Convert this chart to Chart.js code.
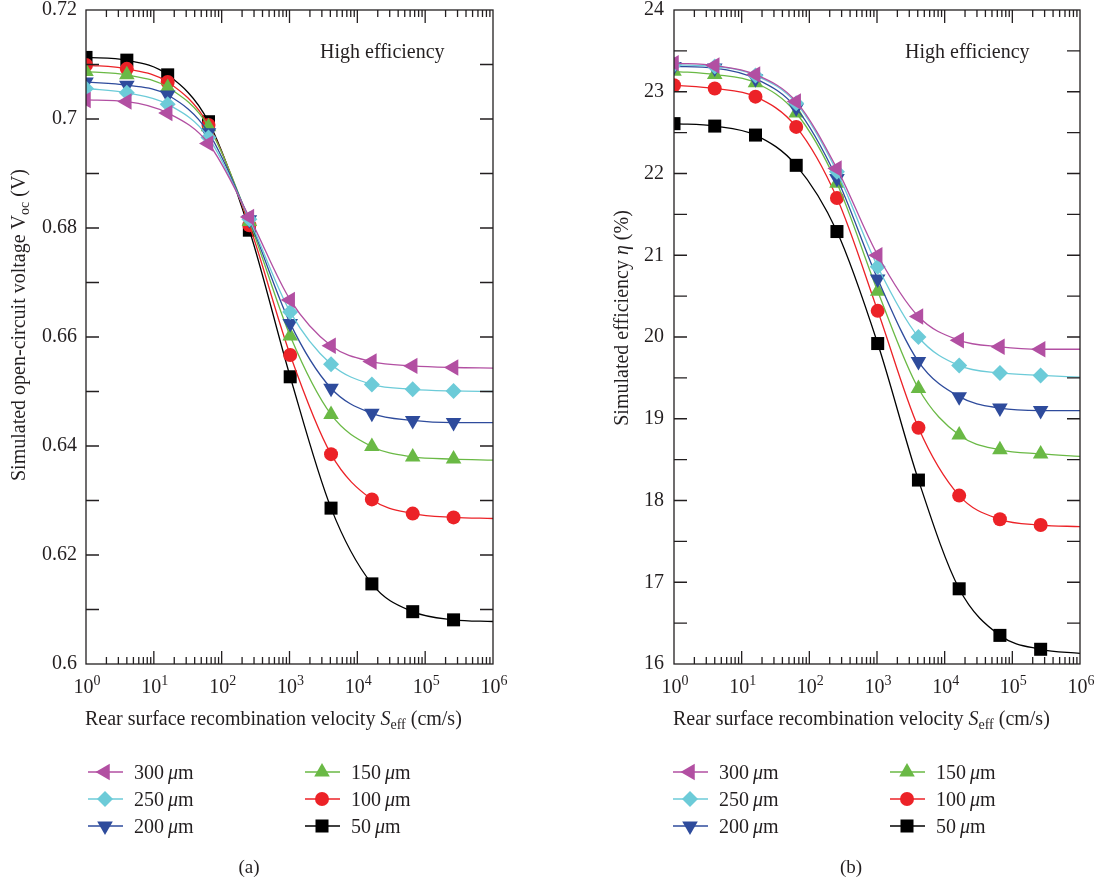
<!DOCTYPE html>
<html>
<head>
<meta charset="utf-8">
<script src="https://cdn.jsdelivr.net/npm/chart.js@4.4.1/dist/chart.umd.min.js"></script>
<style>
  html, body { margin: 0; padding: 0; background: #fff; }
  #wrap { position: relative; width: 1103px; height: 884px; }
  .panel { position: absolute; top: 0; }
  #panelA { left: 0; }
  #panelB { left: 552px; }
</style>
</head>
<body>
<div id="wrap">
  <div class="panel" id="panelA"><canvas id="vocChart" width="552" height="884"></canvas></div>
  <div class="panel" id="panelB"><canvas id="etaChart" width="551" height="884"></canvas></div>
</div>
<script>
// rear surface recombination velocity (cm/s); last point only carries the line
const sEff = [1, 4, 16, 64, 256, 1024, 4096, 16384, 65536, 262144, 1000000];

const thicknessLabels = ['300', '250', '200', '150', '100', '50'];

// open-circuit voltage (V)
const voc300 = [0.7035, 0.7032, 0.7011, 0.6955, 0.6820, 0.6668, 0.6584, 0.6555, 0.6547, 0.6544, 0.6543];
const voc250 = [0.7056, 0.7048, 0.7027, 0.6966, 0.6816, 0.6646, 0.6550, 0.6513, 0.6504, 0.6501, 0.6500];
const voc200 = [0.7068, 0.7062, 0.7044, 0.6975, 0.6815, 0.6625, 0.6506, 0.6460, 0.6447, 0.6443, 0.6443];
const voc150 = [0.7087, 0.7081, 0.7058, 0.6986, 0.6812, 0.6602, 0.6458, 0.6399, 0.6380, 0.6376, 0.6374];
const voc100 = [0.7099, 0.7092, 0.7068, 0.6989, 0.6805, 0.6567, 0.6385, 0.6302, 0.6276, 0.6269, 0.6267];
const voc50  = [0.7113, 0.7108, 0.7081, 0.6995, 0.6796, 0.6527, 0.6286, 0.6147, 0.6096, 0.6081, 0.6078];

// efficiency (%)
const eta300 = [23.35, 23.32, 23.21, 22.88, 22.06, 21.00, 20.25, 19.96, 19.88, 19.85, 19.85];
const eta250 = [23.33, 23.31, 23.20, 22.86, 22.02, 20.86, 20.00, 19.65, 19.56, 19.53, 19.51];
const eta200 = [23.31, 23.29, 23.16, 22.80, 21.94, 20.71, 19.70, 19.27, 19.13, 19.10, 19.10];
const eta150 = [23.25, 23.21, 23.11, 22.74, 21.88, 20.56, 19.37, 18.80, 18.62, 18.57, 18.54];
const eta100 = [23.08, 23.04, 22.94, 22.57, 21.70, 20.32, 18.89, 18.06, 17.77, 17.70, 17.68];
const eta50  = [22.61, 22.58, 22.47, 22.10, 21.29, 19.92, 18.25, 16.92, 16.35, 16.18, 16.13];

// axis ticks
const xDecades = [0, 1, 2, 3, 4, 5, 6];
const vocTickLabels = ['0.6', '0.62', '0.64', '0.66', '0.68', '0.7', '0.72'];
const etaTickLabels = ['16', '17', '18', '19', '20', '21', '22', '23', '24'];

const FONT = "'Liberation Serif', 'DejaVu Serif', serif";
const INK = '#231f20';

const styles = [
  { color: '#b24fa2', pointStyle: 'triangle', rotation: -90, radius: 9.5 },
  { color: '#6ccbd8', pointStyle: 'rectRot',  rotation: 0,   radius: 8 },
  { color: '#2e4b9c', pointStyle: 'triangle', rotation: 180, radius: 9 },
  { color: '#6ab945', pointStyle: 'triangle', rotation: 0,   radius: 9 },
  { color: '#ec2227', pointStyle: 'circle',   rotation: 0,   radius: 7 },
  { color: '#000000', pointStyle: 'rect',     rotation: 0,   radius: 9.2 }
];

function makeDatasets(series) {
  return series.map((vals, k) => ({
    label: thicknessLabels[k] + ' μm',
    data: sEff.map((x, i) => ({ x: x, y: vals[i] })),
    borderColor: styles[k].color,
    backgroundColor: styles[k].color,
    pointBackgroundColor: styles[k].color,
    pointBorderWidth: 0,
    pointStyle: styles[k].pointStyle,
    pointRotation: styles[k].rotation,
    pointRadius: c => (c.dataIndex < sEff.length - 1 ? styles[k].radius : 0),
    borderWidth: 1.3,
    cubicInterpolationMode: 'monotone'
  }));
}

// text made of pieces: [text, size, italic, raise]
function richWidth(ctx, parts) {
  let w = 0;
  parts.forEach(p => {
    ctx.font = (p[2] ? 'italic ' : '') + p[1] + 'px ' + FONT;
    w += ctx.measureText(p[0]).width;
  });
  return w;
}

function drawRich(ctx, parts, x, y, align) {
  const total = richWidth(ctx, parts);
  let cx = align === 'center' ? x - total / 2 : (align === 'right' ? x - total : x);
  ctx.textAlign = 'left';
  ctx.textBaseline = 'alphabetic';
  parts.forEach(p => {
    ctx.font = (p[2] ? 'italic ' : '') + p[1] + 'px ' + FONT;
    ctx.fillText(p[0], cx, y - (p[3] || 0));
    cx += ctx.measureText(p[0]).width;
  });
}

function panelPlugin(opt) {
  return {
    id: 'panelDecor',
    afterDatasetsDraw(chart) {
      const ctx = chart.ctx;
      const { left, right, top, bottom } = chart.chartArea;
      const xs = chart.scales.x, ys = chart.scales.y;
      ctx.save();
      ctx.strokeStyle = INK;
      ctx.lineWidth = 1.3;
      ctx.strokeRect(left, top, right - left, bottom - top);

      ctx.beginPath();
      xDecades.forEach(d => {
        for (let m = 1; m <= 9; m++) {
          const v = m * Math.pow(10, d);
          if (v > 1e6 || (m === 1 && (d === 0 || d === 6))) continue;
          const px = xs.getPixelForValue(v);
          const len = m === 1 ? 13 : 7;
          ctx.moveTo(px, bottom); ctx.lineTo(px, bottom - len);
          ctx.moveTo(px, top); ctx.lineTo(px, top + len);
        }
      });
      for (let v = opt.yMin + opt.yMinor; v < opt.yMax - 1e-9; v += opt.yMinor) {
        const py = ys.getPixelForValue(v);
        ctx.moveTo(left, py); ctx.lineTo(left + 13, py);
        ctx.moveTo(right, py); ctx.lineTo(right - 13, py);
      }
      ctx.stroke();
      ctx.restore();
    },
    afterDraw(chart) {
      const ctx = chart.ctx;
      const { left } = chart.chartArea;
      const xs = chart.scales.x, ys = chart.scales.y;
      ctx.save();
      ctx.fillStyle = INK;

      // y tick labels
      ctx.font = '20px ' + FONT;
      ctx.textAlign = 'right';
      ctx.textBaseline = 'middle';
      opt.yLabels.forEach((lab, i) => {
        ctx.fillText(lab, left - opt.labelGap, ys.getPixelForValue(opt.yMin + i * opt.yMajor));
      });

      // x tick labels 10^n
      xDecades.forEach(d => {
        const px = xs.getPixelForValue(Math.pow(10, d));
        drawRich(ctx, [['10', 20], [String(d), 14, false, 8]], px + 1, 693, 'center');
      });

      // axis titles
      drawRich(ctx, opt.xTitle, opt.xTitleX, 725, 'left');
      ctx.save();
      ctx.translate(opt.yTitleX, opt.yTitleY);
      ctx.rotate(-Math.PI / 2);
      drawRich(ctx, opt.yTitle, 0, 0, 'center');
      ctx.restore();

      drawRich(ctx, [['High efficiency', 20]], opt.noteX, 58, 'left');
      drawRich(ctx, [[opt.caption, 19]], opt.captionX, 873, 'center');

      // legend, two columns of three
      const rows = [772, 799, 826];
      chart.data.datasets.forEach((ds, k) => {
        const col = k < 3 ? opt.legendCols[0] : opt.legendCols[1];
        const y = rows[k % 3];
        const st = styles[k];
        ctx.strokeStyle = st.color;
        ctx.lineWidth = 1.3;
        ctx.beginPath();
        ctx.moveTo(col.x0, y); ctx.lineTo(col.x0 + 35, y);
        ctx.stroke();
        ctx.fillStyle = st.color;
        Chart.helpers.drawPoint(ctx, { pointStyle: st.pointStyle, rotation: st.rotation, radius: st.radius, borderWidth: 0 }, col.x0 + 17, y);
        ctx.fillStyle = INK;
        drawRich(ctx, [[thicknessLabels[k] + '\u2009', 20], ['μ', 20, true], ['m', 20]], col.x0 + 46, y + 7, 'left');
      });
      ctx.restore();
    }
  };
}

function buildPanel(canvasId, series, opt) {
  return new Chart(document.getElementById(canvasId), {
    type: 'line',
    data: { datasets: makeDatasets(series) },
    options: {
      responsive: false,
      animation: false,
      layout: { padding: opt.padding },
      scales: {
        x: { type: 'logarithmic', min: 1, max: 1e6, display: false },
        y: { type: 'linear', min: opt.yMin, max: opt.yMax, display: false }
      },
      plugins: { legend: { display: false }, tooltip: { enabled: false } }
    },
    plugins: [panelPlugin(opt)]
  });
}

buildPanel('vocChart', [voc300, voc250, voc200, voc150, voc100, voc50], {
  padding: { left: 86, right: 59, top: 10, bottom: 220 },
  yMin: 0.6, yMax: 0.72, yMajor: 0.02, yMinor: 0.01,
  yLabels: vocTickLabels, labelGap: 9,
  xTitle: [['Rear surface recombination velocity ', 20], ['S', 20, true], ['eff', 14, false, -4], [' (cm/s)', 20]],
  xTitleX: 85,
  yTitle: [['Simulated open-circuit voltage ', 20], ['V', 20], ['oc', 14, false, -4], [' (V)', 20]],
  yTitleX: 25, yTitleY: 325,
  noteX: 320, caption: '(a)', captionX: 249,
  legendCols: [{ x0: 88 }, { x0: 305 }]
});

buildPanel('etaChart', [eta300, eta250, eta200, eta150, eta100, eta50], {
  padding: { left: 122, right: 23, top: 10, bottom: 220 },
  yMin: 16, yMax: 24, yMajor: 1, yMinor: 0.5,
  yLabels: etaTickLabels, labelGap: 10,
  xTitle: [['Rear surface recombination velocity ', 20], ['S', 20, true], ['eff', 14, false, -4], [' (cm/s)', 20]],
  xTitleX: 121,
  yTitle: [['Simulated efficiency ', 20], ['η', 20, true], [' (%)', 20]],
  yTitleX: 76, yTitleY: 318,
  noteX: 353, caption: '(b)', captionX: 299,
  legendCols: [{ x0: 121 }, { x0: 338 }]
});
</script>
</body>
</html>
